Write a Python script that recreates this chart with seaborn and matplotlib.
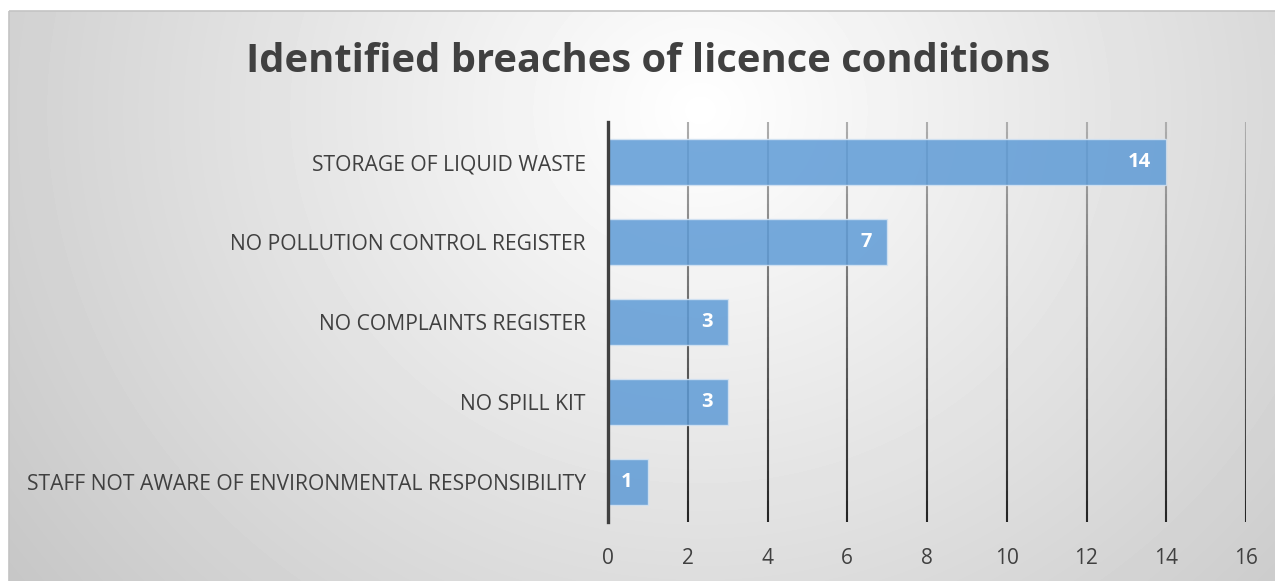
"""
Identified breaches of licence conditions - horizontal bar chart.
"""
import matplotlib.pyplot as plt
import numpy as np
import pandas as pd
import seaborn as sns
from matplotlib.collections import LineCollection
from matplotlib.patches import Rectangle

TITLE = 'Identified breaches of licence conditions'
CATEGORIES = [
    'STORAGE OF LIQUID WASTE',
    'NO POLLUTION CONTROL REGISTER',
    'NO COMPLAINTS REGISTER',
    'NO SPILL KIT',
    'STAFF NOT AWARE OF ENVIRONMENTAL RESPONSIBILITY',
]
COUNTS = [14, 7, 3, 3, 1]
X_TICKS = [0, 2, 4, 6, 8, 10, 12, 14, 16]

W, H = 1275, 581
TEXT_COLOR = '#404040'
BAR_COLOR = '#5e9bd6'


def draw_background(fig):
    # radial grey gradient inside a light frame, as in the office chart
    bg = fig.add_axes([0, 0, 1, 1], zorder=-10)
    yy, xx = np.mgrid[0:H, 0:W]
    d = np.hypot(xx - 700, (yy - 110) * 1.1)
    shade = np.clip(1 - 0.18 * d / 700, 0.78, 1)
    shade[:11, :] = 1
    shade[:, :9] = 1
    bg.imshow(shade, cmap='gray', vmin=0, vmax=1, extent=[0, W, H, 0], aspect='auto')
    bg.add_patch(Rectangle((9, 11), W + 20, H + 20, fill=False, ec='#c4c4c4', lw=1.2))
    bg.set_xlim(0, W)
    bg.set_ylim(H, 0)
    bg.axis('off')


def main():
    sns.set_theme(style='white')
    plt.rcParams['font.family'] = ['Open Sans', 'DejaVu Sans']

    fig = plt.figure(figsize=(W / 100, H / 100), dpi=100)
    draw_background(fig)

    ax = fig.add_axes([608 / W, 1 - 522 / H, (1246 - 608) / W, 400 / H])
    ax.patch.set_alpha(0)

    df = pd.DataFrame({'category': CATEGORIES, 'count': COUNTS})

    # vertical gridlines, fading from light at the top to dark at the bottom
    for xv in X_TICKS[1:]:
        ys = np.linspace(-0.5, 4.5, 40)
        segs = [[(xv, ys[i]), (xv, ys[i + 1])] for i in range(len(ys) - 1)]
        t = (ys[:-1] + 0.5) / 5.0
        cols = [(0.68 - 0.55 * v,) * 3 for v in t]
        ax.add_collection(LineCollection(segs, colors=cols, linewidths=1.5, zorder=0))

    sns.barplot(data=df, x='count', y='category', orient='h', color=BAR_COLOR,
                width=0.58, saturation=1, alpha=0.85, edgecolor='#d5e4f3',
                linewidth=1.0, ax=ax, zorder=2)

    # value labels right-aligned just inside the bar end
    for i, v in enumerate(COUNTS):
        ax.annotate(str(v), xy=(v, i), xytext=(-15, 0), textcoords='offset pixels',
                    ha='right', va='center', color='white', fontweight='bold',
                    fontsize=14.5, zorder=4)

    ax.set_xlim(0, 16)
    ax.set_ylim(4.5, -0.5)
    ax.set_xticks(X_TICKS)
    ax.tick_params(axis='x', length=0, pad=19, labelsize=15, labelcolor=TEXT_COLOR)
    ax.tick_params(axis='y', length=0, pad=16, labelsize=15.2, labelcolor=TEXT_COLOR)
    ax.set_xlabel(None)
    ax.set_ylabel(None)
    ax.grid(False)
    for side in ['top', 'right', 'bottom']:
        ax.spines[side].set_visible(False)
    ax.spines['left'].set_color('#404040')
    ax.spines['left'].set_linewidth(2.4)
    ax.spines['left'].set_zorder(5)

    fig.text(648 / W, 1 - 62 / H, TITLE, ha='center', va='center',
             fontsize=28.7, fontweight='bold', color=TEXT_COLOR)

    fig.savefig('out.png', dpi=100)
    plt.close(fig)


if __name__ == '__main__':
    main()
